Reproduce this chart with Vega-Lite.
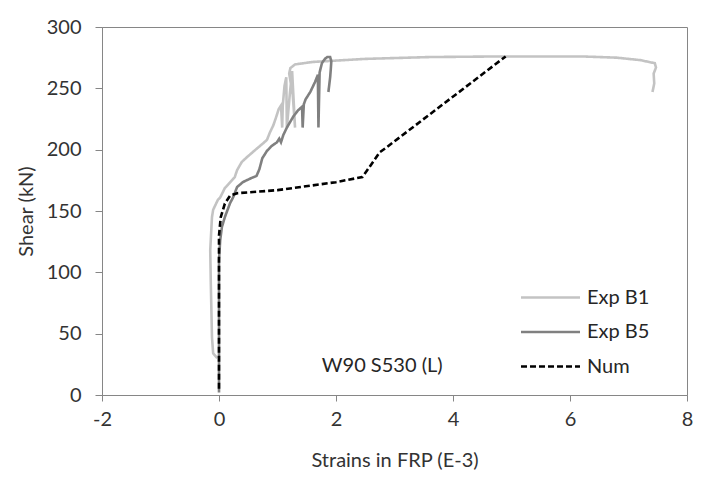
{
  "$schema": "https://vega.github.io/schema/vega-lite/v6.json",
  "width": 585,
  "height": 368,
  "autosize": {"type": "none"},
  "padding": {"left": 102, "top": 27, "right": 20, "bottom": 83},
  "background": "white",
  "config": {
    "font": "Lato",
    "view": {"stroke": "#868686", "strokeWidth": 1},
    "axis": {
      "grid": false,
      "domainColor": "#868686",
      "tickColor": "#868686",
      "labelColor": "#333333",
      "titleColor": "#333333",
      "labelFontSize": 20,
      "titleFontSize": 20,
      "titleFontWeight": "normal",
      "labelFont": "Lato",
      "titleFont": "Lato"
    },
    "legend": {
      "title": null,
      "orient": "none",
      "legendX": 432,
      "legendY": 254,
      "symbolType": "M-2,0H2",
      "symbolSize": 870,
      "symbolStrokeWidth": 2.6,
      "labelFontSize": 20,
      "labelColor": "#262626",
      "labelFont": "Lato",
      "labelOffset": 20,
      "rowPadding": 7.5,
      "padding": 0
    }
  },
  "datasets": {
    "curves": [
      {"series": "Exp B1", "i": 1, "strain": -0.03, "shear": 30},
      {"series": "Exp B1", "i": 2, "strain": -0.1, "shear": 34},
      {"series": "Exp B1", "i": 3, "strain": -0.12, "shear": 47},
      {"series": "Exp B1", "i": 4, "strain": -0.14, "shear": 91},
      {"series": "Exp B1", "i": 5, "strain": -0.15, "shear": 118},
      {"series": "Exp B1", "i": 6, "strain": -0.12, "shear": 145},
      {"series": "Exp B1", "i": 7, "strain": -0.1, "shear": 151},
      {"series": "Exp B1", "i": 8, "strain": -0.06, "shear": 155},
      {"series": "Exp B1", "i": 9, "strain": -0.02, "shear": 159},
      {"series": "Exp B1", "i": 10, "strain": 0.02, "shear": 161},
      {"series": "Exp B1", "i": 11, "strain": 0.1, "shear": 168.7},
      {"series": "Exp B1", "i": 12, "strain": 0.22, "shear": 175},
      {"series": "Exp B1", "i": 13, "strain": 0.27, "shear": 177.7},
      {"series": "Exp B1", "i": 14, "strain": 0.31, "shear": 183.4},
      {"series": "Exp B1", "i": 15, "strain": 0.39, "shear": 190},
      {"series": "Exp B1", "i": 16, "strain": 0.48, "shear": 194},
      {"series": "Exp B1", "i": 17, "strain": 0.65, "shear": 201},
      {"series": "Exp B1", "i": 18, "strain": 0.75, "shear": 205},
      {"series": "Exp B1", "i": 19, "strain": 0.82, "shear": 208},
      {"series": "Exp B1", "i": 20, "strain": 0.87, "shear": 214},
      {"series": "Exp B1", "i": 21, "strain": 0.93, "shear": 220},
      {"series": "Exp B1", "i": 22, "strain": 0.98, "shear": 227},
      {"series": "Exp B1", "i": 23, "strain": 1.02, "shear": 233},
      {"series": "Exp B1", "i": 24, "strain": 1.06, "shear": 236},
      {"series": "Exp B1", "i": 25, "strain": 1.08, "shear": 218},
      {"series": "Exp B1", "i": 26, "strain": 1.09, "shear": 236},
      {"series": "Exp B1", "i": 27, "strain": 1.12, "shear": 252},
      {"series": "Exp B1", "i": 28, "strain": 1.15, "shear": 259},
      {"series": "Exp B1", "i": 29, "strain": 1.16, "shear": 218},
      {"series": "Exp B1", "i": 30, "strain": 1.21, "shear": 245},
      {"series": "Exp B1", "i": 31, "strain": 1.25, "shear": 264},
      {"series": "Exp B1", "i": 32, "strain": 1.3, "shear": 218},
      {"series": "Exp B1", "i": 33, "strain": 1.26, "shear": 245},
      {"series": "Exp B1", "i": 34, "strain": 1.2, "shear": 262},
      {"series": "Exp B1", "i": 35, "strain": 1.22, "shear": 266.5},
      {"series": "Exp B1", "i": 36, "strain": 1.3, "shear": 269.5},
      {"series": "Exp B1", "i": 37, "strain": 1.6, "shear": 271.5},
      {"series": "Exp B1", "i": 38, "strain": 2.5, "shear": 274},
      {"series": "Exp B1", "i": 39, "strain": 3.6, "shear": 275.5},
      {"series": "Exp B1", "i": 40, "strain": 4.8, "shear": 276},
      {"series": "Exp B1", "i": 41, "strain": 6.2, "shear": 276},
      {"series": "Exp B1", "i": 42, "strain": 6.8, "shear": 275},
      {"series": "Exp B1", "i": 43, "strain": 7.2, "shear": 273},
      {"series": "Exp B1", "i": 44, "strain": 7.45, "shear": 270.5},
      {"series": "Exp B1", "i": 45, "strain": 7.47, "shear": 267},
      {"series": "Exp B1", "i": 46, "strain": 7.43, "shear": 262},
      {"series": "Exp B1", "i": 47, "strain": 7.44, "shear": 254},
      {"series": "Exp B1", "i": 48, "strain": 7.41, "shear": 247},
      {"series": "Exp B5", "i": 1, "strain": 0.0, "shear": 2},
      {"series": "Exp B5", "i": 2, "strain": 0.0, "shear": 60},
      {"series": "Exp B5", "i": 3, "strain": 0.0, "shear": 110},
      {"series": "Exp B5", "i": 4, "strain": 0.02, "shear": 126},
      {"series": "Exp B5", "i": 5, "strain": 0.05, "shear": 137},
      {"series": "Exp B5", "i": 6, "strain": 0.1, "shear": 145},
      {"series": "Exp B5", "i": 7, "strain": 0.19, "shear": 156.5},
      {"series": "Exp B5", "i": 8, "strain": 0.24, "shear": 161},
      {"series": "Exp B5", "i": 9, "strain": 0.31, "shear": 169.6},
      {"series": "Exp B5", "i": 10, "strain": 0.41, "shear": 173.6},
      {"series": "Exp B5", "i": 11, "strain": 0.56, "shear": 177},
      {"series": "Exp B5", "i": 12, "strain": 0.64, "shear": 178.5},
      {"series": "Exp B5", "i": 13, "strain": 0.69, "shear": 184},
      {"series": "Exp B5", "i": 14, "strain": 0.74, "shear": 193},
      {"series": "Exp B5", "i": 15, "strain": 0.82, "shear": 199},
      {"series": "Exp B5", "i": 16, "strain": 0.9, "shear": 203},
      {"series": "Exp B5", "i": 17, "strain": 0.99, "shear": 206},
      {"series": "Exp B5", "i": 18, "strain": 1.03, "shear": 209},
      {"series": "Exp B5", "i": 19, "strain": 1.06, "shear": 206},
      {"series": "Exp B5", "i": 20, "strain": 1.1, "shear": 212},
      {"series": "Exp B5", "i": 21, "strain": 1.16, "shear": 218},
      {"series": "Exp B5", "i": 22, "strain": 1.27, "shear": 227},
      {"series": "Exp B5", "i": 23, "strain": 1.35, "shear": 232},
      {"series": "Exp B5", "i": 24, "strain": 1.42, "shear": 235},
      {"series": "Exp B5", "i": 25, "strain": 1.43, "shear": 218},
      {"series": "Exp B5", "i": 26, "strain": 1.45, "shear": 237},
      {"series": "Exp B5", "i": 27, "strain": 1.48, "shear": 241},
      {"series": "Exp B5", "i": 28, "strain": 1.56, "shear": 247},
      {"series": "Exp B5", "i": 29, "strain": 1.64, "shear": 255},
      {"series": "Exp B5", "i": 30, "strain": 1.69, "shear": 261},
      {"series": "Exp B5", "i": 31, "strain": 1.7, "shear": 218},
      {"series": "Exp B5", "i": 32, "strain": 1.72, "shear": 263},
      {"series": "Exp B5", "i": 33, "strain": 1.76, "shear": 270.6},
      {"series": "Exp B5", "i": 34, "strain": 1.81, "shear": 274},
      {"series": "Exp B5", "i": 35, "strain": 1.85, "shear": 275.5},
      {"series": "Exp B5", "i": 36, "strain": 1.9, "shear": 275.5},
      {"series": "Exp B5", "i": 37, "strain": 1.92, "shear": 272},
      {"series": "Exp B5", "i": 38, "strain": 1.91, "shear": 265},
      {"series": "Exp B5", "i": 39, "strain": 1.9, "shear": 259},
      {"series": "Exp B5", "i": 40, "strain": 1.87, "shear": 247},
      {"series": "Num", "i": 1, "strain": 0.0, "shear": 5},
      {"series": "Num", "i": 2, "strain": 0.0, "shear": 60},
      {"series": "Num", "i": 3, "strain": 0.0, "shear": 130},
      {"series": "Num", "i": 4, "strain": 0.03, "shear": 145},
      {"series": "Num", "i": 5, "strain": 0.1, "shear": 156},
      {"series": "Num", "i": 6, "strain": 0.19, "shear": 162.5},
      {"series": "Num", "i": 7, "strain": 0.31, "shear": 164.5},
      {"series": "Num", "i": 8, "strain": 1.0, "shear": 167},
      {"series": "Num", "i": 9, "strain": 2.0, "shear": 173.5},
      {"series": "Num", "i": 10, "strain": 2.45, "shear": 177.7},
      {"series": "Num", "i": 11, "strain": 2.53, "shear": 183},
      {"series": "Num", "i": 12, "strain": 2.75, "shear": 198},
      {"series": "Num", "i": 13, "strain": 2.84, "shear": 201},
      {"series": "Num", "i": 14, "strain": 4.9, "shear": 276}
    ],
    "notes": [
      {"label": "W90 S530 (L)", "strain": 2.79, "shear": 23.6}
    ]
  },
  "layer": [
    {
      "data": {"name": "curves"},
      "mark": {"type": "line", "strokeWidth": 2.6, "interpolate": "linear"},
      "encoding": {
        "x": {
          "field": "strain",
          "type": "quantitative",
          "scale": {"domain": [-2, 8], "nice": false, "zero": false},
          "axis": {
            "title": "Strains in FRP (E-3)",
            "values": [-2, 0, 2, 4, 6, 8],
            "labelExpr": "'' + datum.value",
            "tickSize": 6,
            "labelPadding": 8,
            "labelFlush": false,
            "titlePadding": 21
          }
        },
        "y": {
          "field": "shear",
          "type": "quantitative",
          "scale": {"domain": [0, 300], "nice": false},
          "axis": {
            "title": "Shear (kN)",
            "values": [0, 50, 100, 150, 200, 250, 300],
            "tickSize": 7,
            "labelPadding": 14,
            "titlePadding": 10
          }
        },
        "order": {"field": "i", "type": "quantitative"},
        "color": {
          "field": "series",
          "type": "nominal",
          "scale": {"domain": ["Exp B1", "Exp B5", "Num"], "range": ["#c3c3c3", "#808080", "#000000"]},
          "legend": {"title": null}
        },
        "strokeDash": {
          "field": "series",
          "type": "nominal",
          "scale": {"domain": ["Exp B1", "Exp B5", "Num"], "range": [[1, 0], [1, 0], [6, 3]]},
          "legend": {"title": null}
        }
      }
    },
    {
      "data": {"name": "notes"},
      "mark": {"type": "text", "fontSize": 20, "font": "Lato", "color": "#262626", "align": "center", "baseline": "middle"},
      "encoding": {
        "x": {"field": "strain", "type": "quantitative"},
        "y": {"field": "shear", "type": "quantitative"},
        "text": {"field": "label"}
      }
    }
  ]
}
